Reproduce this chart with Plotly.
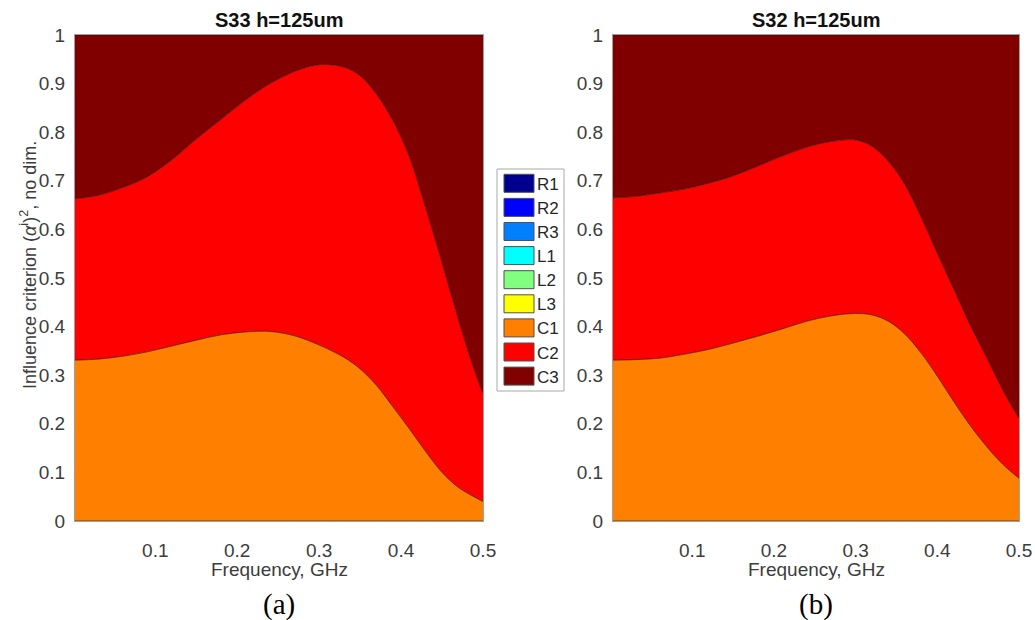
import plotly.graph_objects as go

W, H = 1035, 620

# Series shown in the legend (stack order bottom -> top) and their colours
series_names = ["R1", "R2", "R3", "L1", "L2", "L3", "C1", "C2", "C3"]
series_colors = ["#00008F", "#0000FF", "#0080FF", "#00FFFF", "#80FF80",
                 "#FFFF00", "#FF8000", "#FF0000", "#800000"]

# Panel (a): S33, h=125um
freq_a = [0.002, 0.03, 0.06, 0.09, 0.12, 0.15, 0.18, 0.21, 0.24, 0.27, 0.30,
          0.33, 0.35, 0.37, 0.39, 0.41, 0.43, 0.45, 0.47, 0.49, 0.50]
zero_a = [0.0, 0.0, 0.0, 0.0, 0.0, 0.0, 0.0, 0.0, 0.0, 0.0, 0.0,
          0.0, 0.0, 0.0, 0.0, 0.0, 0.0, 0.0, 0.0, 0.0, 0.0]
C1_a = [0.331, 0.333, 0.339, 0.348, 0.360, 0.372, 0.383, 0.389, 0.390, 0.381, 0.362,
        0.337, 0.313, 0.279, 0.235, 0.190, 0.143, 0.100, 0.069, 0.049, 0.040]
C2_a = [0.332, 0.337, 0.347, 0.360, 0.383, 0.414, 0.443, 0.477, 0.510, 0.544, 0.577,
        0.597, 0.603, 0.599, 0.589, 0.560, 0.502, 0.432, 0.346, 0.259, 0.223]
C3_a = [0.337, 0.330, 0.314, 0.292, 0.257, 0.214, 0.174, 0.134, 0.100, 0.075, 0.061,
        0.066, 0.084, 0.122, 0.176, 0.250, 0.355, 0.468, 0.585, 0.692, 0.737]

# Panel (b): S32, h=125um
freq_b = [0.003, 0.03, 0.06, 0.09, 0.12, 0.15, 0.18, 0.21, 0.24, 0.27, 0.30,
          0.32, 0.34, 0.36, 0.38, 0.40, 0.42, 0.44, 0.46, 0.48, 0.50]
zero_b = [0.0, 0.0, 0.0, 0.0, 0.0, 0.0, 0.0, 0.0, 0.0, 0.0, 0.0,
          0.0, 0.0, 0.0, 0.0, 0.0, 0.0, 0.0, 0.0, 0.0, 0.0]
C1_b = [0.331, 0.332, 0.335, 0.343, 0.353, 0.366, 0.380, 0.395, 0.411, 0.422, 0.427,
        0.424, 0.411, 0.385, 0.346, 0.298, 0.246, 0.197, 0.154, 0.117, 0.088]
C2_b = [0.334, 0.336, 0.340, 0.340, 0.342, 0.344, 0.350, 0.356, 0.358, 0.359, 0.357,
        0.347, 0.329, 0.308, 0.280, 0.253, 0.232, 0.207, 0.184, 0.153, 0.123]
C3_b = [0.335, 0.332, 0.325, 0.317, 0.305, 0.290, 0.270, 0.249, 0.231, 0.219, 0.216,
        0.229, 0.260, 0.307, 0.374, 0.449, 0.522, 0.596, 0.662, 0.730, 0.789]

panel_titles = ["S33 h=125um", "S32 h=125um"]
panel_tags = ["(a)", "(b)"]
x_ticks = [0.1, 0.2, 0.3, 0.4, 0.5]
y_ticks = [0, 0.1, 0.2, 0.3, 0.4, 0.5, 0.6, 0.7, 0.8, 0.9, 1]


def px(x):
    return x / W


def py(y):
    return 1 - y / H


fig = go.Figure()

panels = [
    (freq_a, [zero_a] * 6 + [C1_a, C2_a, C3_a], "x", "y", "a"),
    (freq_b, [zero_b] * 6 + [C1_b, C2_b, C3_b], "x2", "y2", "b"),
]
for freq, values, xa, ya, grp in panels:
    for name, color, vals in zip(series_names, series_colors, values):
        fig.add_trace(go.Scatter(
            x=freq, y=vals, name=name, xaxis=xa, yaxis=ya,
            stackgroup=grp, mode="lines",
            line=dict(color="rgba(30,10,0,0.75)", width=0.8, shape="spline", smoothing=1.0),
            fillcolor=color, showlegend=False, hoverinfo="x+y+name",
        ))

tick_font = dict(family="Liberation Sans, Arial, sans-serif", size=19, color="#3c3c3c")
axis_common = dict(showline=True, mirror=True, linecolor="#a0a0a0", linewidth=1,
                   ticks="", showgrid=False, zeroline=False, tickfont=tick_font,
                   automargin=False)

x_domains = [[px(75), px(483)], [px(613), px(1019)]]
x_ranges = [[freq_a[0], 0.5], [freq_b[0], 0.5]]
y_domain = [py(521), py(35)]

fig.update_layout(
    template="none",
    width=W, height=H, autosize=False,
    margin=dict(l=0, r=0, t=0, b=0, pad=0, autoexpand=False),
    paper_bgcolor="white", plot_bgcolor="white",
    showlegend=False,
    xaxis=dict(domain=x_domains[0], range=x_ranges[0], anchor="y",
               tickvals=x_ticks, ticktext=[str(v) for v in x_ticks],
               ticklabelstandoff=12, **axis_common),
    yaxis=dict(domain=y_domain, range=[0, 1], anchor="x",
               tickvals=y_ticks, ticktext=[f"{v:g}" for v in y_ticks],
               ticklabelstandoff=5, **axis_common),
    xaxis2=dict(domain=x_domains[1], range=x_ranges[1], anchor="y2",
                tickvals=x_ticks, ticktext=[str(v) for v in x_ticks],
                ticklabelstandoff=12, **axis_common),
    yaxis2=dict(domain=y_domain, range=[0, 1], anchor="x2",
                tickvals=y_ticks, ticktext=[f"{v:g}" for v in y_ticks],
                ticklabelstandoff=5, **axis_common),
)

sans = "Liberation Sans, Arial, sans-serif"
annotations = []
centers = [279, 816]
for cx, title, tag in zip(centers, panel_titles, panel_tags):
    annotations.append(dict(x=px(cx), y=py(20), xref="paper", yref="paper", text=f"<b>{title}</b>",
                            showarrow=False, font=dict(family=sans, size=20, color="#111111"),
                            xanchor="center", yanchor="middle"))
    annotations.append(dict(x=px(cx), y=py(569), xref="paper", yref="paper", text="Frequency, GHz",
                            showarrow=False, font=dict(family=sans, size=19, color="#3c3c3c"),
                            xanchor="center", yanchor="middle"))
    annotations.append(dict(x=px(cx), y=py(604), xref="paper", yref="paper", text=tag,
                            showarrow=False,
                            font=dict(family="Liberation Serif, Times New Roman, serif", size=29, color="black"),
                            xanchor="center", yanchor="middle"))

annotations.append(dict(
    x=px(28), y=py(265), xref="paper", yref="paper",
    text="Influence criterion (<i>α</i><sup>i</sup>)<sup>2</sup>, no dim.",
    textangle=-90, showarrow=False, font=dict(family=sans, size=18, color="#3c3c3c"),
    xanchor="center", yanchor="middle"))

# Legend box with colour swatches
shapes = [dict(type="rect", xref="paper", yref="paper",
               x0=px(497), x1=px(564), y0=py(391), y1=py(169),
               line=dict(color="#a8a8a8", width=1), fillcolor="white", layer="above")]
row0, step = 183.3, 24.1
for i, (name, color) in enumerate(zip(series_names, series_colors)):
    cy = row0 + i * step
    shapes.append(dict(type="rect", xref="paper", yref="paper",
                       x0=px(504), x1=px(534), y0=py(cy + 9), y1=py(cy - 9),
                       line=dict(color="#505050", width=1), fillcolor=color, layer="above"))
    annotations.append(dict(x=px(535), y=py(cy + 1), xref="paper", yref="paper", text=name,
                            showarrow=False, font=dict(family=sans, size=17, color="#262626"),
                            xanchor="left", yanchor="middle"))

fig.update_layout(annotations=annotations, shapes=shapes)

fig.write_html("out.html")
